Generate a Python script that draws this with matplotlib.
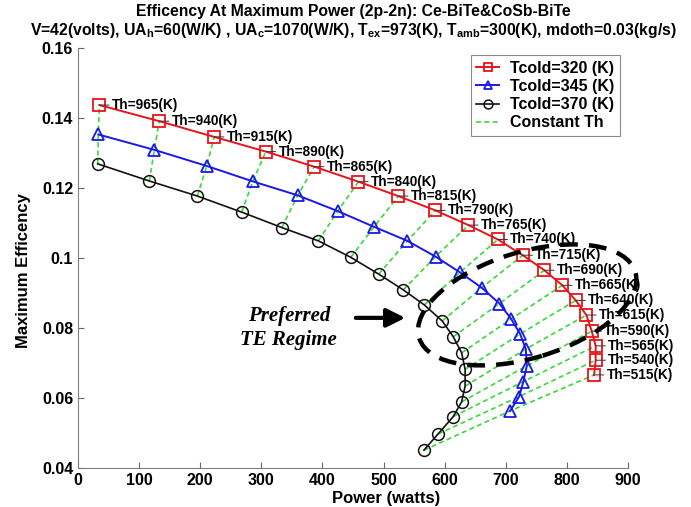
import matplotlib
matplotlib.use("Agg")
import matplotlib.pyplot as plt
import matplotlib.transforms as mtransforms
from matplotlib.patches import Ellipse

plt.rcParams["font.family"] = ["Liberation Sans", "DejaVu Sans"]
plt.rcParams["font.weight"] = "bold"
plt.rcParams["mathtext.fontset"] = "custom"
plt.rcParams["mathtext.rm"] = "Liberation Sans:bold"
plt.rcParams["mathtext.bf"] = "Liberation Sans:bold"

# ── Data ──────────────────────────────────────────────────────────────────────
th_vals = [965, 940, 915, 890, 865, 840, 815, 790, 765, 740,
           715, 690, 665, 640, 615, 590, 565, 540, 515]

p_320 = [34.9, 132.9, 222.9, 307.4, 386.6, 458.9, 524.0, 584.8, 638.8, 687.0,
         727.7, 763.0, 792.5, 814.4, 831.8, 840.6, 847.0, 847.0, 844.4]
e_320 = [0.1437, 0.1391, 0.1346, 0.1304, 0.1261, 0.1218, 0.1177, 0.1136, 0.1094, 0.1053,
         0.1008, 0.0965, 0.0922, 0.0879, 0.0837, 0.0791, 0.0749, 0.0708, 0.0666]

p_345 = [33.3, 124.9, 210.6, 285.9, 359.6, 425.0, 484.5, 539.0, 585.0, 625.0,
         660.6, 689.5, 708.7, 723.4, 732.7, 734.4, 728.8, 721.8, 707.0]
e_345 = [0.1353, 0.1309, 0.1263, 0.1219, 0.1179, 0.1134, 0.1089, 0.1049, 0.1004, 0.0959,
         0.0915, 0.0870, 0.0826, 0.0783, 0.0740, 0.0692, 0.0647, 0.0604, 0.0563]

p_370 = [32.2, 116.7, 195.3, 267.9, 333.4, 393.3, 446.3, 492.0, 532.2, 566.6,
         596.0, 614.0, 627.7, 633.4, 633.4, 627.7, 614.0, 589.0, 566.0]
e_370 = [0.1269, 0.1220, 0.1177, 0.1131, 0.1087, 0.1049, 0.1002, 0.0954, 0.0909, 0.0866,
         0.0820, 0.0775, 0.0729, 0.0682, 0.0634, 0.0589, 0.0547, 0.0497, 0.0451]

x_ticks = [0, 100, 200, 300, 400, 500, 600, 700, 800, 900]
y_ticks = [0.04, 0.06, 0.08, 0.1, 0.12, 0.14, 0.16]
y_tick_labels = ["0.04", "0.06", "0.08", "0.1", "0.12", "0.14", "0.16"]

GREEN = "#3ad83a"

# ── Figure ────────────────────────────────────────────────────────────────────
fig = plt.figure(figsize=(6.91, 5.07), dpi=100)
ax = fig.add_axes([0.1129, 0.0769, 0.796, 0.8284])

# constant-Th connectors
for i in range(len(th_vals)):
    ax.plot([p_370[i], p_345[i], p_320[i]], [e_370[i], e_345[i], e_320[i]],
            color=GREEN, ls=(0, (3, 2)), lw=1.2, zorder=1,
            label="Constant Th" if i == 0 else None)

l1, = ax.plot(p_320, e_320, "-s", color="#e8141b", lw=1.4, ms=8,
              mfc="none", mew=1.3, label="Tcold=320 (K)", zorder=3)
l2, = ax.plot(p_345, e_345, "-^", color="#1a1ae6", lw=1.4, ms=8.5,
              mfc="none", mew=1.3, label="Tcold=345 (K)", zorder=3)
l3, = ax.plot(p_370, e_370, "-o", color="#111111", lw=1.2, ms=8.5,
              mfc="none", mew=1.1, label="Tcold=370 (K)", zorder=3)

for th, x, y in zip(th_vals, p_320, e_320):
    ax.annotate(f"Th={th}(K)", xy=(x, y), xytext=(9, 0), textcoords="offset points",
                ha="left", va="center", fontsize=9.8, fontweight="bold",
                arrowprops=dict(arrowstyle="-", color="0.2", lw=0.7,
                                shrinkA=0, shrinkB=0))

# preferred regime ellipse (sized in inches, centred in data coords)
tr = fig.dpi_scale_trans + mtransforms.ScaledTranslation(735, 0.0866, ax.transData)
ax.add_patch(Ellipse((0, 0), 2.26, 1.06, angle=17, transform=tr, fill=False,
                     ec="black", lw=3.2, ls=(0, (4, 2.5)), zorder=5, clip_on=False))

ax.annotate("", xy=(540, 0.0829), xytext=(450, 0.0829),
            arrowprops=dict(arrowstyle="-|>", color="black", lw=3,
                            mutation_scale=28))
ax.text(345, 0.0799, "Preferred\nTE Regime", ha="center", va="center",
        fontsize=15, fontweight="bold", fontstyle="italic",
        family=["Liberation Serif"], linespacing=1.25)

ax.set_xlim(0, 900)
ax.set_ylim(0.04, 0.16)
ax.set_xticks(x_ticks)
ax.set_yticks(y_ticks)
ax.set_yticklabels(y_tick_labels)
ax.tick_params(direction="in", labelsize=11.5, length=4, color="0.4")
for s in ["top", "right"]:
    ax.spines[s].set_visible(False)
for s in ["left", "bottom"]:
    ax.spines[s].set_color("0.5")

ax.set_xlabel("Power (watts)", fontsize=12, fontweight="bold")
ax.set_ylabel("Maximum Efficency", fontsize=12, fontweight="bold")
ax.xaxis.set_label_coords(0.56, -0.055)
ax.yaxis.set_label_coords(-0.085, 0.47)

tx = 0.5 * (0.1129 + 0.1129 + 0.796)
fig.text(tx, 0.977, "Efficency At Maximum Power (2p-2n): Ce-BiTe&CoSb-BiTe",
         ha="center", va="center", fontsize=11.3, fontweight="bold")
fig.text(tx, 0.94,
         r"V=42(volts), UA$_\mathbf{h}$=60(W/K) , UA$_\mathbf{c}$=1070(W/K), "
         r"T$_\mathbf{ex}$=973(K), T$_\mathbf{amb}$=300(K), mdoth=0.03(kg/s)",
         ha="center", va="center", fontsize=11.3, fontweight="bold")

handles = [l1, l2, l3, ax.lines[0]]
leg = ax.legend(handles=handles, loc="upper right", bbox_to_anchor=(0.985, 0.983),
                borderaxespad=0, prop={"weight": "bold", "size": 11.5},
                fancybox=False, framealpha=1, edgecolor="0.55",
                handlelength=1.4, borderpad=0.35, labelspacing=0.2,
                handletextpad=0.7, markerscale=0.75)
leg.get_frame().set_linewidth(0.8)

fig.savefig("out.png", dpi=100)
